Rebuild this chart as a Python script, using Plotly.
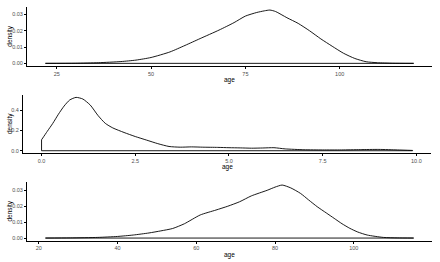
import plotly.graph_objects as go

# Panel 1: age density
age1 = [22, 30, 36, 42, 46, 50, 55, 59, 63, 68, 72, 75, 78, 80, 81.5, 83, 86, 89, 92, 95, 98, 101, 104, 107, 110, 114, 119.6]
dens1 = [0.0, 0.0001, 0.0004, 0.0011, 0.0020, 0.0036, 0.0070, 0.0110, 0.0152, 0.0204, 0.0250, 0.0290, 0.0312, 0.0322, 0.0327, 0.0318, 0.0280, 0.0245, 0.0200, 0.0150, 0.0105, 0.0062, 0.0030, 0.0010, 0.0004, 0.0001, 0.0]

# Panel 2: age density (0-10)
age2 = [0, 0.15, 0.3, 0.45, 0.6, 0.75, 0.92, 1.1, 1.3, 1.5, 1.7, 1.9, 2.2, 2.5, 2.8, 3.1, 3.4, 3.7, 4.0, 4.3, 4.7, 5.0, 5.3, 5.6, 5.9, 6.2, 6.5, 7.0, 7.5, 8.0, 8.5, 9.0, 9.5, 9.9]
dens2 = [0.108, 0.19, 0.27, 0.36, 0.44, 0.50, 0.526, 0.51, 0.45, 0.35, 0.27, 0.225, 0.18, 0.14, 0.105, 0.07, 0.042, 0.035, 0.038, 0.035, 0.033, 0.030, 0.028, 0.025, 0.027, 0.030, 0.018, 0.010, 0.008, 0.008, 0.011, 0.013, 0.008, 0.003]

# Panel 3: age density
age3 = [21.7, 28, 35, 40, 44, 48, 51, 54, 57, 61, 65, 68, 71, 74, 78, 80, 81.8, 84, 86.5, 88.5, 90.7, 93, 95, 97, 99, 101, 103.4, 107.5, 111, 115.2]
dens3 = [0.0, 0.0001, 0.0004, 0.0010, 0.0019, 0.0032, 0.0045, 0.0060, 0.0090, 0.0145, 0.0176, 0.0200, 0.0228, 0.0265, 0.0300, 0.0320, 0.0333, 0.0315, 0.0280, 0.0240, 0.0197, 0.0158, 0.0124, 0.0090, 0.0061, 0.0038, 0.0019, 0.0004, 0.0001, 0.0]

x1_ticks = [25, 50, 75, 100]
x2_ticks = [0.0, 2.5, 5.0, 7.5, 10.0]
x3_ticks = [20, 40, 60, 80, 100]
y1_ticks = [0.00, 0.01, 0.02, 0.03]
y2_ticks = [0.0, 0.2, 0.4]
y3_ticks = [0.00, 0.01, 0.02, 0.03]

x_title = "age"
y_title = "density"

panels = [
    (age1, dens1, x1_ticks, y1_ticks, ".2f", "", [0.0614, 0.982], [0.748, 0.9718]),
    (age2, dens2, x2_ticks, y2_ticks, ".1f", ".1f", [0.0523, 0.980], [0.4145, 0.6385]),
    (age3, dens3, x3_ticks, y3_ticks, ".2f", "", [0.0614, 0.982], [0.0813, 0.3038]),
]

W, H = 440, 262
fig = go.Figure()
layout = {}
annotations = []
title_font = dict(family="Liberation Sans", size=6.5, color="black")
for i, (xs, ys, xt, yt, yfmt, xfmt, xdom, ydom) in enumerate(panels, start=1):
    xa = "x" if i == 1 else f"x{i}"
    ya = "y" if i == 1 else f"y{i}"
    fig.add_trace(go.Scatter(x=xs, y=ys, mode="lines", xaxis=xa, yaxis=ya,
                             line=dict(color="black", width=0.9, shape="spline", smoothing=0.6),
                             showlegend=False, hoverinfo="skip"))
    # closing of the density polygon (baseline)
    fig.add_trace(go.Scatter(x=[xs[-1], xs[-1], xs[0], xs[0]], y=[ys[-1], 0, 0, ys[0]],
                             mode="lines", xaxis=xa, yaxis=ya,
                             line=dict(color="black", width=0.9),
                             showlegend=False, hoverinfo="skip"))
    xmin, xmax = min(xs), max(xs)
    xr = [xmin - 0.05 * (xmax - xmin), xmax + 0.05 * (xmax - xmin)]
    ymax = max(ys)
    yr = [-0.05 * ymax, 1.05 * ymax]
    axis_common = dict(showline=True, linecolor="black", linewidth=1, ticks="outside",
                       ticklen=2, tickwidth=1, tickcolor="black", showgrid=False, zeroline=False,
                       automargin=False,
                       tickfont=dict(family="Liberation Sans", size=5.5, color="#4D4D4D"))
    xkey = "xaxis" if i == 1 else f"xaxis{i}"
    ykey = "yaxis" if i == 1 else f"yaxis{i}"
    layout[xkey] = dict(axis_common, domain=xdom, range=xr, tickvals=xt, tickformat=xfmt or None,
                        anchor=ya)
    layout[ykey] = dict(axis_common, domain=ydom, range=yr, tickvals=yt, tickformat=yfmt,
                        anchor=xa)
    # axis titles
    annotations.append(dict(text=x_title, xref="paper", yref="paper", showarrow=False,
                            x=(xdom[0] + xdom[1]) / 2, y=ydom[0] - 14 / H,
                            xanchor="center", yanchor="middle", font=title_font))
    annotations.append(dict(text=y_title, xref="paper", yref="paper", showarrow=False,
                            x=10 / W, y=(ydom[0] + ydom[1]) / 2, textangle=-90,
                            xanchor="center", yanchor="middle", font=title_font))

fig.update_layout(width=W, height=H, margin=dict(l=0, r=0, t=0, b=0),
                  paper_bgcolor="white", plot_bgcolor="white", annotations=annotations, **layout)
fig.write_html("out.html", config={"displayModeBar": False, "staticPlot": True},
               post_script="document.body.style.margin='0';document.body.style.overflow='hidden';")
